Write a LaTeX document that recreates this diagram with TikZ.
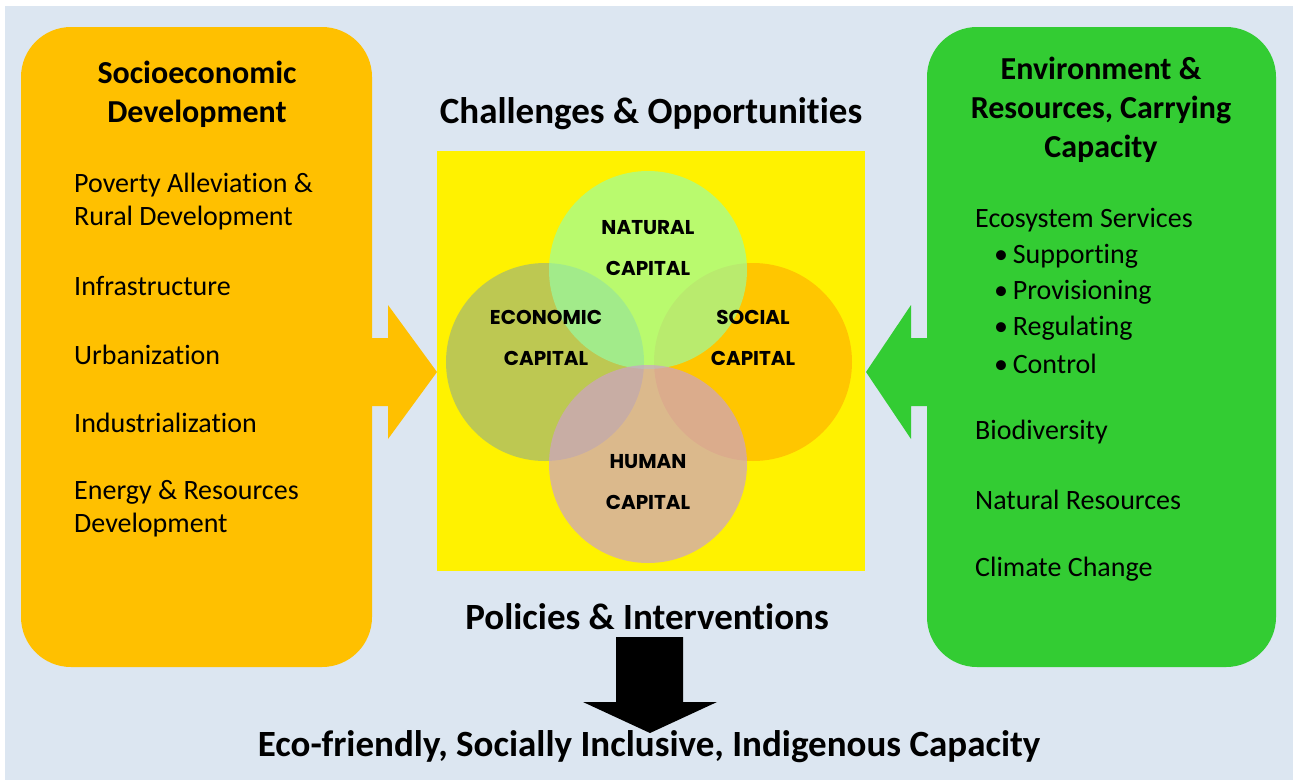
\documentclass[tikz,border=0pt]{standalone}
\usepackage{fontspec}
\setmainfont{Carlito}[Ligatures={NoCommon}]
\newfontfamily\capfont{Poppins}

\definecolor{bgblue}{RGB}{220,230,241}
\definecolor{boxorange}{RGB}{255,192,0}
\definecolor{boxgreen}{RGB}{51,204,51}
\definecolor{natfill}{RGB}{148,255,169}
\definecolor{econfill}{RGB}{125,160,165}
\definecolor{socfill}{RGB}{255,170,0}
\definecolor{humfill}{RGB}{205,162,200}

\begin{document}
\begin{tikzpicture}[x=1pt,y=-1pt,
  panel/.style={rounded corners=50pt},
  heading/.style={font=\bfseries\fontsize{32}{39}\selectfont, align=center, inner sep=0pt},
  title/.style={font=\bfseries\fontsize{37}{44}\selectfont, inner sep=0pt},
  item/.style={font=\fontsize{28}{33}\selectfont, align=left, anchor=west, inner sep=0pt},
  capital/.style={circle, minimum size=198pt, inner sep=0pt, fill opacity=0.6},
  caplabel/.style={font=\capfont\bfseries\fontsize{20}{41}\selectfont, align=center, inner sep=0pt}]

% Background
\fill[white] (0,0) rectangle (1293,780);
\fill[bgblue] (5,6) rectangle (1293,780);

% Side panels
\fill[boxorange, panel] (21,27) rectangle (372,667);
\fill[boxgreen, panel] (927,27) rectangle (1276,667);

% Block arrows pointing to the centre
\fill[boxorange] (360,338) -- (388,338) -- (388,305) -- (437,372) -- (388,439) -- (388,406) -- (360,406) -- cycle;
\fill[boxgreen] (940,338) -- (911,338) -- (911,305) -- (866,372) -- (911,439) -- (911,406) -- (940,406) -- cycle;

% Centre square with the four capitals
\fill[yellow] (437,151) rectangle (865,571);
\node[capital, fill=econfill, fill opacity=0.5] (econ) at (545,362) {};
\node[capital, fill=socfill] (soc) at (753,362) {};
\node[capital, fill=natfill, fill opacity=0.65] (nat) at (648,270) {};
\node[capital, fill=humfill, fill opacity=0.7] (hum) at (648,464) {};

\node[caplabel] (natlbl) at (648,248) {NATURAL\\CAPITAL};
\node[caplabel] (econlbl) at (546,338) {ECONOMIC\\CAPITAL};
\node[caplabel] (soclbl) at (753,338) {SOCIAL\\CAPITAL};
\node[caplabel] (humlbl) at (648,482) {HUMAN\\CAPITAL};

% Titles
\node[title] (challenge) at (651,114) {Challenges \& Opportunities};
\node[title] (policy) at (647,617) {Policies \& Interventions};
\node[title] (result) at (649,747) {Eco-friendly, Socially Inclusive, Indigenous Capacity};

% Downward arrow
\fill[black] (616,637) -- (683,637) -- (683,702) -- (717,702) -- (650,733) -- (583,702) -- (616,702) -- cycle;

% Left panel
\node[heading] (socio) at (197,94) {Socioeconomic\\Development};
\node[item] (poverty) at (74,202) {Poverty Alleviation \&\\Rural Development};
\node[item] (infra) at (74,286) {Infrastructure};
\node[item] (urban) at (74,355) {Urbanization};
\node[item] (industry) at (74,423) {Industrialization};
\node[item] (energy) at (74,509) {Energy \& Resources\\Development};

% Right panel
\node[heading] (env) at (1101,110) {Environment \&\\Resources, Carrying\\Capacity};
\node[item] (eco) at (975,220) {Ecosystem Services};
\node[item] (supp) at (994,256) {\textbullet\,Supporting};
\node[item] (prov) at (994,292) {\textbullet\,Provisioning};
\node[item] (reg) at (994,328) {\textbullet\,Regulating};
\node[item] (ctrl) at (994,364) {\textbullet\,Control};
\node[item] (bio) at (975,432) {Biodiversity};
\node[item] (natres) at (975,500) {Natural Resources};
\node[item] (climate) at (975,569) {Climate Change};

\end{tikzpicture}
\end{document}
